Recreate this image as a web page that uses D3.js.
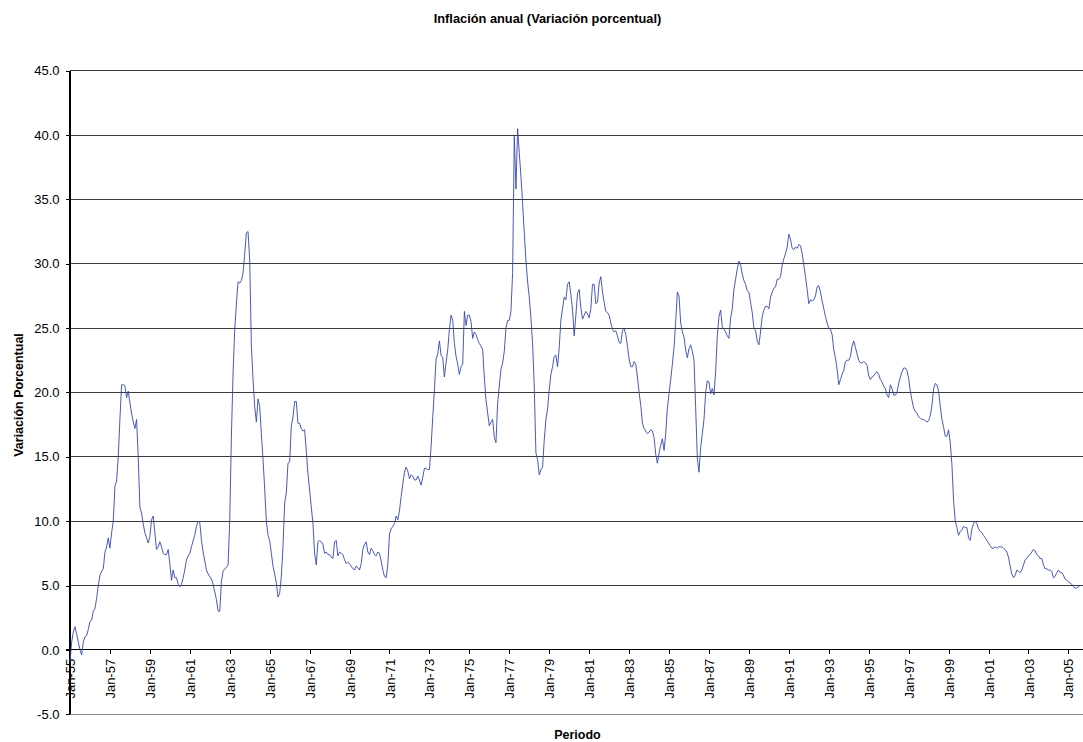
<!DOCTYPE html>
<html><head><meta charset="utf-8">
<script src="https://cdn.jsdelivr.net/npm/d3@7"></script>
<style>
body{margin:0;background:#fff}
svg{display:block}
text{font-family:"Liberation Sans",Arial,Helvetica,sans-serif;fill:#000}
</style>
</head><body>
<svg id="chart" width="1083" height="742"></svg>
<script>
// ---- DATA ----
const chartTitle = "Inflación anual (Variación porcentual)";
const yTitle = "Variación Porcentual";
const xTitle = "Periodo";
const xTickLabels = ["Jan-55","Jan-57","Jan-59","Jan-61","Jan-63","Jan-65","Jan-67","Jan-69","Jan-71","Jan-73",
  "Jan-75","Jan-77","Jan-79","Jan-81","Jan-83","Jan-85","Jan-87","Jan-89","Jan-91","Jan-93",
  "Jan-95","Jan-97","Jan-99","Jan-01","Jan-03","Jan-05"];
const monthsPerTick = 24;
const yTicks = [-5, 0, 5, 10, 15, 20, 25, 30, 35, 40, 45];
// monthly annual inflation, Jan-1955 onward
const inflation = [
  -0.9, 0.6, 1.4, 1.8, 1.2, 0.6, 0.0, -0.4, 0.6, 1.0, 1.1, 1.6,      // 1955
  2.2, 2.3, 3.0, 3.2, 4.0, 5.0, 5.8, 6.1, 6.3, 7.6, 8.0, 8.7,        // 1956
  7.9, 9.1, 10.0, 12.7, 13.1, 15.0, 17.9, 20.6, 20.6, 20.5, 19.6, 20.1, // 1957
  19.2, 18.4, 17.7, 17.2, 17.9, 15.0, 11.1, 10.6, 9.8, 9.1, 8.7, 8.3, // 1958
  8.8, 10.1, 10.4, 9.1, 7.8, 8.0, 8.4, 8.0, 7.5, 7.4, 7.4, 7.8,      // 1959
  6.7, 5.4, 6.2, 5.6, 5.6, 5.1, 4.9, 5.1, 5.6, 6.2, 7.0, 7.3,        // 1960
  7.5, 8.0, 8.5, 8.9, 9.6, 10.0, 9.9, 8.5, 7.6, 6.9, 6.2, 5.9,       // 1961
  5.7, 5.5, 5.1, 4.5, 3.9, 3.0, 3.0, 5.3, 6.1, 6.3, 6.4, 6.6,        // 1962
  10.1, 16.6, 21.5, 24.9, 26.9, 28.6, 28.5, 28.7, 29.3, 30.8, 32.4, 32.5, // 1963
  30.3, 23.6, 21.0, 18.9, 17.7, 19.5, 18.9, 16.8, 14.8, 12.5, 10.0, 8.9, // 1964
  8.5, 7.5, 6.5, 5.9, 5.2, 4.1, 4.4, 5.7, 8.0, 11.4, 12.2, 14.5,     // 1965
  14.6, 17.4, 18.1, 19.3, 19.3, 17.6, 17.6, 17.2, 17.0, 17.1, 15.5, 13.7, // 1966
  12.4, 11.1, 9.8, 7.5, 6.6, 8.4, 8.5, 8.4, 8.2, 7.5, 7.6, 7.4,      // 1967
  7.4, 7.2, 7.1, 8.4, 8.5, 7.3, 7.6, 7.5, 7.4, 7.0, 6.7, 6.8,        // 1968
  6.7, 6.5, 6.3, 6.2, 6.5, 6.4, 6.2, 6.7, 7.8, 8.2, 8.4, 7.6,        // 1969
  7.4, 7.9, 7.7, 7.4, 7.3, 7.6, 7.5, 6.9, 6.2, 5.7, 5.6, 6.6,        // 1970
  9.0, 9.4, 9.6, 9.8, 10.4, 10.1, 10.8, 11.9, 12.9, 13.8, 14.2, 13.9, // 1971
  13.3, 13.6, 13.5, 13.2, 13.2, 13.5, 13.2, 12.8, 13.4, 14.1, 14.1, 14.0, // 1972
  14.0, 15.8, 18.1, 20.2, 22.6, 23.0, 24.0, 22.9, 22.7, 21.2, 22.3, 23.3, // 1973
  24.9, 26.0, 25.6, 23.8, 22.8, 22.2, 21.4, 22.0, 22.2, 26.3, 25.2, 26.0, // 1974
  26.0, 25.5, 24.2, 24.7, 24.5, 24.1, 23.8, 23.6, 23.3, 21.2, 19.4, 18.4, // 1975
  17.4, 17.7, 17.9, 16.5, 16.1, 19.2, 20.5, 21.8, 22.3, 23.2, 25.0, 25.6, // 1976
  25.6, 26.3, 29.3, 39.9, 35.8, 40.5, 38.6, 36.8, 34.7, 32.4, 30.3, 28.6, // 1977
  27.4, 25.8, 23.8, 20.5, 15.3, 14.8, 13.6, 14.0, 14.2, 16.3, 17.9, 18.7, // 1978
  20.2, 21.4, 22.0, 22.8, 22.9, 22.0, 23.5, 25.6, 26.5, 27.4, 27.2, 28.4, // 1979
  28.6, 27.6, 26.4, 24.4, 26.0, 27.7, 28.0, 26.6, 25.7, 26.0, 26.3, 26.1, // 1980
  25.8, 26.5, 28.4, 28.4, 26.9, 27.0, 28.5, 29.0, 27.8, 27.0, 26.3, 26.2, // 1981
  26.0, 25.4, 24.9, 24.7, 24.8, 24.4, 23.9, 23.8, 24.8, 25.0, 24.5, 23.6, // 1982
  22.6, 22.0, 22.0, 22.4, 22.2, 21.2, 20.0, 19.0, 17.6, 17.2, 17.0, 16.8, // 1983
  16.9, 17.1, 17.0, 16.5, 15.2, 14.5, 15.3, 15.9, 16.4, 15.5, 16.8, 18.8, // 1984
  19.9, 21.0, 22.2, 23.5, 25.5, 27.8, 27.5, 25.4, 24.7, 24.3, 23.3, 22.7, // 1985
  23.4, 23.7, 23.2, 22.5, 18.8, 14.9, 13.8, 15.7, 16.8, 17.9, 20.0, 20.9, // 1986
  20.8, 19.9, 20.3, 19.8, 21.6, 24.4, 25.9, 26.4, 25.1, 24.9, 24.7, 24.4, // 1987
  24.2, 25.8, 26.5, 28.0, 28.8, 29.6, 30.2, 29.9, 29.2, 28.7, 28.4, 27.9, // 1988
  27.8, 27.0, 26.2, 25.0, 24.8, 24.0, 23.7, 24.7, 25.9, 26.4, 26.7, 26.7, // 1989
  26.5, 27.4, 27.8, 28.1, 28.2, 28.8, 28.8, 29.0, 29.9, 30.4, 30.8, 31.3, // 1990
  32.3, 31.9, 31.2, 31.1, 31.3, 31.2, 31.5, 31.4, 30.8, 29.9, 29.0, 28.0, // 1991
  26.9, 27.2, 27.1, 27.2, 27.5, 28.2, 28.3, 27.8, 27.1, 26.5, 25.9, 25.4, // 1992
  25.0, 24.9, 24.5, 23.3, 22.7, 21.8, 20.6, 21.0, 21.4, 21.7, 22.4, 22.5, // 1993
  22.5, 22.8, 23.6, 24.0, 23.5, 23.0, 22.5, 22.3, 22.3, 22.4, 22.3, 22.1, // 1994
  21.3, 21.0, 21.2, 21.3, 21.5, 21.6, 21.4, 21.0, 20.8, 20.5, 20.3, 19.8, // 1995
  19.6, 20.6, 20.3, 19.8, 19.8, 20.0, 20.7, 21.2, 21.6, 21.9, 21.9, 21.7, // 1996
  21.1, 20.1, 19.4, 18.8, 18.5, 18.4, 18.1, 18.0, 17.9, 17.9, 17.8, 17.7, // 1997
  17.8, 18.2, 19.0, 20.3, 20.7, 20.6, 20.1, 18.9, 17.9, 17.3, 16.6, 16.6, // 1998
  17.1, 16.1, 14.4, 11.6, 10.0, 9.5, 8.9, 9.2, 9.3, 9.6, 9.5, 9.5,   // 1999
  8.7, 8.5, 9.4, 9.8, 10.0, 9.8, 9.4, 9.2, 9.1, 8.9, 8.7, 8.5,       // 2000
  8.3, 8.1, 7.9, 7.9, 8.0, 7.9, 8.0, 8.0, 8.0, 7.9, 7.8, 7.6,        // 2001
  7.2, 6.5, 5.9, 5.6, 5.8, 6.2, 6.1, 6.0, 6.2, 6.6, 7.0, 7.1,        // 2002
  7.3, 7.4, 7.6, 7.8, 7.7, 7.4, 7.3, 7.1, 7.1, 6.6, 6.3, 6.3,        // 2003
  6.2, 6.2, 6.1, 5.6, 5.7, 6.0, 6.2, 6.0, 6.0, 5.8, 5.5, 5.4,        // 2004
  5.3, 5.2, 5.1, 4.9, 4.8, 4.8, 4.9, 5.0, 5.0                        // 2005
];

// ---- LAYOUT ----
const W = 1083, H = 742;
const plotLeft = 70, plotTop = 70.7, plotBottom = 714.2;
const monthPx = 1.664;
const totalMonths = 612;
const plotRight = plotLeft + totalMonths * monthPx;

const svg = d3.select("#chart");

const x = d3.scaleLinear().domain([0, totalMonths]).range([plotLeft, plotRight]);
const y = d3.scaleLinear().domain([-5, 45]).range([plotBottom, plotTop]);

// gridlines
svg.append("g").selectAll("line")
  .data(yTicks.filter(d => d !== 0 && d !== -5))
  .join("line")
  .attr("x1", plotLeft).attr("x2", W + 10)
  .attr("y1", d => y(d)).attr("y2", d => y(d))
  .attr("stroke", "#3a3a3a").attr("stroke-width", 1.1)
  .attr("shape-rendering", "crispEdges");

// bottom border (-5)
svg.append("line")
  .attr("x1", plotLeft).attr("x2", W + 10)
  .attr("y1", y(-5)).attr("y2", y(-5))
  .attr("stroke", "#8c8c8c").attr("stroke-width", 1.2)
  .attr("shape-rendering", "crispEdges");

// Y axis
const yAxis = svg.append("g")
  .attr("transform", `translate(${plotLeft},0)`)
  .call(d3.axisLeft(y).tickValues(yTicks).tickSize(4).tickPadding(6.5)
    .tickFormat(d => d.toFixed(1)));
yAxis.select(".domain").remove();
yAxis.selectAll(".tick line").attr("stroke", "#000").attr("shape-rendering", "crispEdges");
yAxis.selectAll(".tick text").attr("font-size", 13).attr("font-family", "Liberation Sans, Arial, sans-serif");
svg.append("line")
  .attr("x1", plotLeft).attr("x2", plotLeft)
  .attr("y1", y(45)).attr("y2", y(-5))
  .attr("stroke", "#000").attr("stroke-width", 1.1)
  .attr("shape-rendering", "crispEdges");

// X axis at zero
const xAxis = svg.append("g")
  .attr("transform", `translate(0,${y(0)})`)
  .call(d3.axisBottom(x)
    .tickValues(xTickLabels.map((_, i) => i * monthsPerTick))
    .tickSize(4)
    .tickFormat((d, i) => xTickLabels[i]));
xAxis.select(".domain").remove();
xAxis.selectAll(".tick line").attr("stroke", "#000").attr("shape-rendering", "crispEdges");
xAxis.selectAll(".tick text")
  .attr("font-size", 13).attr("font-family", "Liberation Sans, Arial, sans-serif")
  .attr("transform", "rotate(-90)")
  .attr("x", -9).attr("y", 0).attr("dy", "0.35em")
  .style("text-anchor", "end");
svg.append("line")
  .attr("x1", plotLeft - 4).attr("x2", W + 10)
  .attr("y1", y(0)).attr("y2", y(0))
  .attr("stroke", "#000").attr("stroke-width", 1.1)
  .attr("shape-rendering", "crispEdges");

// data line
const line = d3.line().x((d, i) => x(i)).y(d => y(d));
svg.append("path")
  .datum(inflation)
  .attr("d", line)
  .attr("fill", "none")
  .attr("stroke", "#3446b4")
  .attr("stroke-width", 0.9)
  .attr("stroke-linejoin", "round");

// titles
svg.append("text")
  .attr("x", 547.5).attr("y", 22.5)
  .attr("text-anchor", "middle")
  .attr("font-size", 12.8).attr("font-weight", "bold")
  .text(chartTitle);

svg.append("text")
  .attr("transform", `translate(22.5,395) rotate(-90)`)
  .attr("text-anchor", "middle")
  .attr("font-size", 12.5).attr("font-weight", "bold")
  .text(yTitle);

svg.append("text")
  .attr("x", 577.5).attr("y", 739)
  .attr("text-anchor", "middle")
  .attr("font-size", 12.5).attr("font-weight", "bold")
  .text(xTitle);
</script>
</body></html>
